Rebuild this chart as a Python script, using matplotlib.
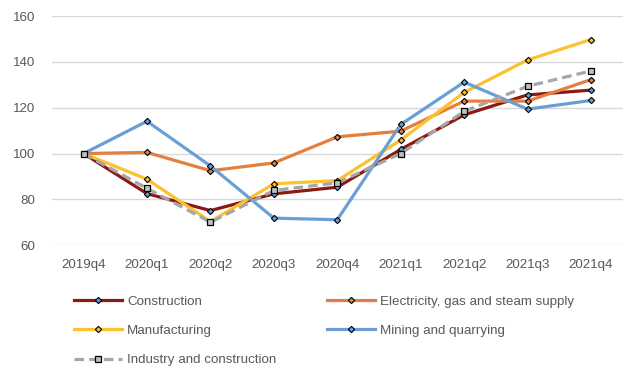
import matplotlib
matplotlib.use("Agg")
import matplotlib.pyplot as plt

quarters = ["2019q4", "2020q1", "2020q2", "2020q3", "2020q4",
            "2021q1", "2021q2", "2021q3", "2021q4"]
construction = [100, 82.5, 75.1, 82.4, 85.3, 101.8, 116.9, 125.6, 127.7]
electricity = [100, 100.5, 92.5, 95.9, 107.3, 109.8, 122.9, 122.9, 132.3]
manufacturing = [100, 88.8, 70.3, 86.8, 88.2, 105.9, 126.7, 140.9, 149.8]
mining = [100, 114.1, 94.6, 71.8, 71.1, 112.7, 131.2, 119.4, 123.2]
industry = [100, 84.8, 70.0, 83.9, 87.2, 100.0, 118.4, 129.4, 136.1]
yticks = [60, 80, 100, 120, 140, 160]

plt.rcParams["font.family"] = ["Liberation Sans", "DejaVu Sans"]
fs = 9.6

fig = plt.figure(figsize=(6.4, 3.76), dpi=100)
ax = fig.add_axes([0.081, 0.348, 0.892, 0.609])

x = list(range(len(quarters)))
lw = 2.3
ms = 3.2
h_con, = ax.plot(x, construction, color="#8B1A12", lw=lw, marker="D", ms=ms,
                 mfc="#5B9BD5", mec="black", mew=0.8, label="Construction")
h_ele, = ax.plot(x, electricity, color="#E47F3E", lw=lw, marker="D", ms=ms,
                 mfc="#E47F3E", mec="black", mew=0.8, label="Electricity, gas and steam supply")
h_man, = ax.plot(x, manufacturing, color="#FBC12E", lw=lw, marker="D", ms=ms,
                 mfc="#FBC12E", mec="black", mew=0.8, label="Manufacturing")
h_min, = ax.plot(x, mining, color="#6A9FD6", lw=lw, marker="D", ms=ms,
                 mfc="#6A9FD6", mec="black", mew=0.8, label="Mining and quarrying")
h_ind, = ax.plot(x, industry, color="#A6A6A6", lw=lw, ls=(0, (3, 1.6)), marker="s", ms=4.6,
                 mfc="#BFBFBF", mec="black", mew=0.9, label="Industry and construction")

ax.set_xlim(-0.5, len(quarters) - 0.5)
ax.set_ylim(60, 160)
ax.set_yticks(yticks)
ax.set_xticks(x)
ax.set_xticklabels(quarters)
ax.yaxis.grid(True, color="#D9D9D9", lw=1)
ax.set_axisbelow(True)
for s in ax.spines.values():
    s.set_visible(False)
ax.tick_params(axis="both", length=0, labelsize=fs, labelcolor="#595959")
ax.tick_params(axis="y", pad=12)
ax.tick_params(axis="x", pad=10)

order = [h_con, h_man, h_ind, h_ele, h_min]
fig.legend(order, [h.get_label() for h in order],
           ncol=2, loc="upper left", bbox_to_anchor=(0.116, 0.214),
           frameon=False, fontsize=fs, handlelength=3.6, handletextpad=0.35,
           columnspacing=3.85, labelspacing=1.27, labelcolor="#595959",
           borderaxespad=0, borderpad=0)

fig.savefig("out.png", dpi=100)
